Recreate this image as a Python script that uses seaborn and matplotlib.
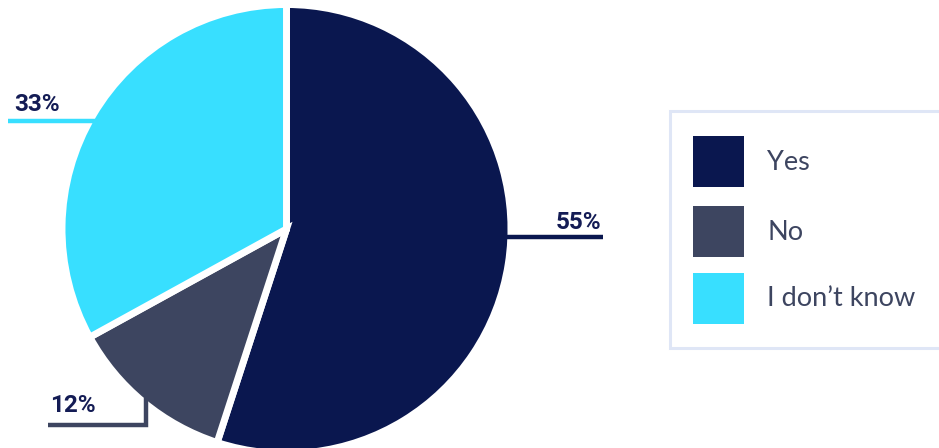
import matplotlib
matplotlib.use("Agg")
import matplotlib.pyplot as plt
from matplotlib.patches import Rectangle
import seaborn as sns

categories = ["Yes", "No", "I don't know"]
values = [55, 12, 33]
pct_labels = ["55%", "12%", "33%"]
colors = ["#0a174f", "#3d4560", "#38dfff"]

sns.set_theme(style="white")
plt.rcParams["font.family"] = ["Lato", "DejaVu Sans"]

W, H = 939, 448
fig = plt.figure(figsize=(W / 100, H / 100), dpi=100)
ax = fig.add_axes([0, 0, 1, 1])

cx, cy, r = 286.5, 229, 224.5
ax.pie(values, colors=colors, startangle=-90, counterclock=True,
       center=(cx, cy), radius=r, frame=True,
       wedgeprops=dict(edgecolor="white", linewidth=5))
ax.set_xlim(0, W)
ax.set_ylim(H, 0)
ax.set_axis_off()

lab_color = "#141c55"
lab_kw = dict(va="baseline", fontsize=17.5, fontweight="bold", fontstyle="normal",
              color=lab_color, family=["Roboto", "DejaVu Sans"])
# leader lines + labels (layout positions)
# Yes
ax.plot([506, 603], [237, 237], color=colors[0], lw=3.2, zorder=3, solid_capstyle="butt")
ax.text(601, 229, pct_labels[0], ha="right", **lab_kw)
# I don't know
ax.plot([8, 95], [121, 121], color=colors[2], lw=3.2, zorder=3, solid_capstyle="butt")
ax.text(14, 111, pct_labels[2], ha="left", **lab_kw)
# No
ax.plot([48, 145.5, 145.5], [425, 425, 398], color=colors[1], lw=3.2, zorder=3,
        solid_capstyle="butt", solid_joinstyle="miter")
ax.text(50, 412, pct_labels[1], ha="left", **lab_kw)

# legend
ax.add_patch(Rectangle((670, 111), 300, 237, facecolor="white",
                       edgecolor="#dfe6f6", lw=2.2, zorder=3))
ys = [136, 206, 273]
for cat, col, y in zip(categories, colors, ys):
    ax.add_patch(Rectangle((693, y), 51, 51, facecolor=col, edgecolor="none", zorder=4))
    ax.text(767, y + 26, cat.replace("'", "\u2019"), ha="left", va="center",
            fontsize=19.5, color="#3d4560", zorder=5)

fig.savefig("out.png", dpi=100)
